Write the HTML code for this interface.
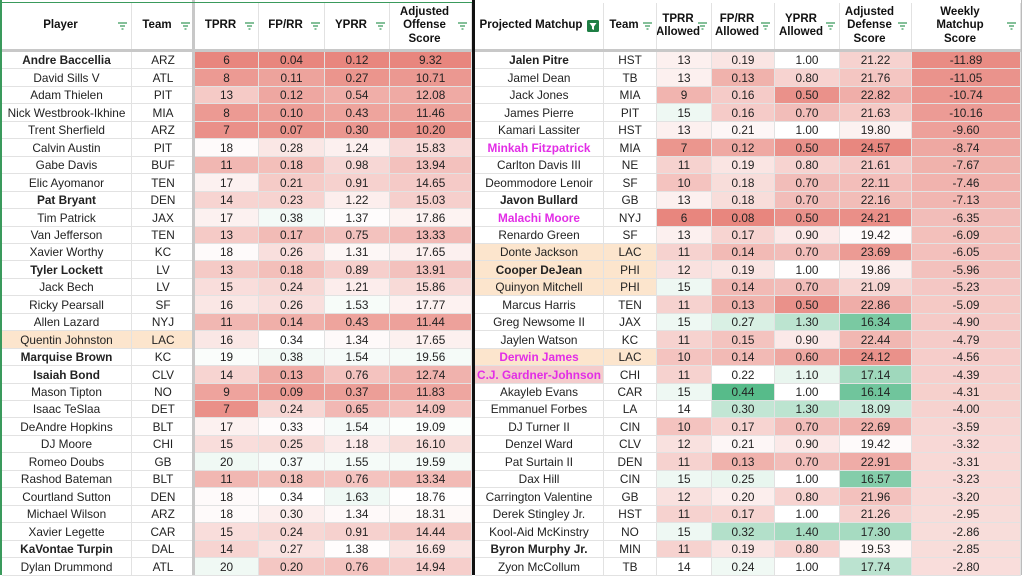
<!DOCTYPE html>
<html><head><meta charset="utf-8">
<style>
body{margin:0;width:1024px;height:575px;overflow:hidden;background:#fff;font-family:"Liberation Sans",Arial,sans-serif;position:relative}
.c{position:absolute;box-sizing:border-box;border-right:1px solid #e2e2e2;border-bottom:1px solid #e2e2e2;display:flex;align-items:center;justify-content:center;font-size:11.8px;color:#222;white-space:nowrap;overflow:hidden}
.h{font-weight:bold;font-size:11.5px;text-align:center;line-height:13.5px;color:#111}
.f{position:absolute;right:4px;top:50%;margin-top:-4px;width:9px;height:8px}
.b{font-weight:bold}
.m{font-weight:bold;color:#e22de6}
.line{position:absolute}
</style></head><body>
<div id="root"></div>
<script>
var L=[["Andre Baccellia","ARZ",6,"0.04","0.12","9.32","b"],["David Sills V","ATL",8,"0.11","0.27","10.71"],["Adam Thielen","PIT",13,"0.12","0.54","12.08"],["Nick Westbrook-Ikhine","MIA",8,"0.10","0.43","11.46"],["Trent Sherfield","ARZ",7,"0.07","0.30","10.20"],["Calvin Austin","PIT",18,"0.28","1.24","15.83"],["Gabe Davis","BUF",11,"0.18","0.98","13.94"],["Elic Ayomanor","TEN",17,"0.21","0.91","14.65"],["Pat Bryant","DEN",14,"0.23","1.22","15.03","b"],["Tim Patrick","JAX",17,"0.38","1.37","17.86"],["Van Jefferson","TEN",13,"0.17","0.75","13.33"],["Xavier Worthy","KC",18,"0.26","1.31","17.65"],["Tyler Lockett","LV",13,"0.18","0.89","13.91","b"],["Jack Bech","LV",15,"0.24","1.21","15.86"],["Ricky Pearsall","SF",16,"0.26","1.53","17.77"],["Allen Lazard","NYJ",11,"0.14","0.43","11.44"],["Quentin Johnston","LAC",16,"0.34","1.34","17.65","p"],["Marquise Brown","KC",19,"0.38","1.54","19.56","b"],["Isaiah Bond","CLV",14,"0.13","0.76","12.74","b"],["Mason Tipton","NO",9,"0.09","0.37","11.83"],["Isaac TeSlaa","DET",7,"0.24","0.65","14.09"],["DeAndre Hopkins","BLT",17,"0.33","1.54","19.09"],["DJ Moore","CHI",15,"0.25","1.18","16.10"],["Romeo Doubs","GB",20,"0.37","1.55","19.59"],["Rashod Bateman","BLT",11,"0.18","0.76","13.34"],["Courtland Sutton","DEN",18,"0.34","1.63","18.76"],["Michael Wilson","ARZ",18,"0.30","1.34","18.31"],["Xavier Legette","CAR",15,"0.24","0.91","14.44"],["KaVontae Turpin","DAL",14,"0.27","1.38","16.69","b"],["Dylan Drummond","ATL",20,"0.20","0.76","14.94"]];
var R=[["Jalen Pitre","HST",13,"0.19","1.00","21.22","-11.89","b"],["Jamel Dean","TB",13,"0.13","0.80","21.76","-11.05"],["Jack Jones","MIA",9,"0.16","0.50","22.82","-10.74"],["James Pierre","PIT",15,"0.16","0.70","21.63","-10.16"],["Kamari Lassiter","HST",13,"0.21","1.00","19.80","-9.60"],["Minkah Fitzpatrick","MIA",7,"0.12","0.50","24.57","-8.74","m"],["Carlton Davis III","NE",11,"0.19","0.80","21.61","-7.67"],["Deommodore Lenoir","SF",10,"0.18","0.70","22.11","-7.46"],["Javon Bullard","GB",13,"0.18","0.70","22.16","-7.13","b"],["Malachi Moore","NYJ",6,"0.08","0.50","24.21","-6.35","m"],["Renardo Green","SF",13,"0.17","0.90","19.42","-6.09"],["Donte Jackson","LAC",11,"0.14","0.70","23.69","-6.05","p"],["Cooper DeJean","PHI",12,"0.19","1.00","19.86","-5.96","bp"],["Quinyon Mitchell","PHI",15,"0.14","0.70","21.09","-5.23","p"],["Marcus Harris","TEN",11,"0.13","0.50","22.86","-5.09"],["Greg Newsome II","JAX",15,"0.27","1.30","16.34","-4.90"],["Jaylen Watson","KC",11,"0.15","0.90","22.44","-4.79"],["Derwin James","LAC",10,"0.14","0.60","24.12","-4.56","mp"],["C.J. Gardner-Johnson","CHI",11,"0.22","1.10","17.14","-4.39","mk"],["Akayleb Evans","CAR",15,"0.44","1.00","16.14","-4.31"],["Emmanuel Forbes","LA",14,"0.30","1.30","18.09","-4.00"],["DJ Turner II","CIN",10,"0.17","0.70","22.69","-3.59"],["Denzel Ward","CLV",12,"0.21","0.90","19.42","-3.32"],["Pat Surtain II","DEN",11,"0.13","0.70","22.91","-3.31"],["Dax Hill","CIN",15,"0.25","1.00","16.57","-3.23"],["Carrington Valentine","GB",12,"0.20","0.80","21.96","-3.20"],["Derek Stingley Jr.","HST",11,"0.17","1.00","21.26","-2.95"],["Kool-Aid McKinstry","NO",15,"0.32","1.40","17.30","-2.86"],["Byron Murphy Jr.","MIN",11,"0.19","0.80","19.53","-2.85","b"],["Zyon McCollum","TB",14,"0.24","1.00","17.74","-2.80"]];
function col(v,lo,mid,hi){v=+v;var r=[230,124,115],g=[87,187,138],w=[255,255,255],t,c;
 if((v-mid)*(hi-mid)>0){t=Math.min(1,(v-mid)/(hi-mid));c=g}else{t=Math.min(1,(v-mid)/(lo-mid))*0.92;c=r}
 return "rgb("+w.map(function(x,i){return Math.round(x+(c[i]-x)*t)}).join(",")+")"}
var fsvg='<svg class="f" viewBox="0 0 9 8"><path d="M0 1h9M2 4h5M3.5 7h2" stroke="#3a9a5c" stroke-width="1.2"/></svg>';
var fbox='<svg style="position:absolute;right:4px;top:50%;margin-top:-6px" width="12" height="12" viewBox="0 0 12 12"><rect width="12" height="12" rx="1.5" fill="#1e7e44"/><path d="M2.5 3h7L7 6.5V10L5 9V6.5z" fill="#fff"/></svg>';
var html="";
function cell(x,w,y,h,txt,st,cls){html+='<div class="c '+(cls||"")+'" style="left:'+x+'px;top:'+y+'px;width:'+w+'px;height:'+h+'px;'+(st||"")+'">'+txt+'</div>';}
var HT=3,HH=47,RT=52,RH=17.45;
var lx=[2,132,195,259,325,390,472],ly=["Player","Team","TPRR","FP/RR","YPRR","Adjusted<br>Offense<br>Score"];
var rx=[475,604,657,712,775,840,912,1021],ry=["Projected Matchup","Team","TPRR<br>Allowed","FP/RR<br>Allowed","YPRR<br>Allowed","Adjusted<br>Defense<br>Score","Weekly<br>Matchup<br>Score"];
for(var i=0;i<6;i++)cell(lx[i],lx[i+1]-lx[i],HT,HH,'<span style="margin-right:12px">'+ly[i]+'</span>'+fsvg,"","h");
for(var i=0;i<7;i++)cell(rx[i],rx[i+1]-rx[i],HT,HH,'<span style="margin-right:'+(i==0?16:12)+'px">'+ry[i]+'</span>'+(i==0?fbox:fsvg),"","h");
var Ls=[[6,18.5,35],[0.04,0.34,0.9],[0.12,1.4,4],[9.32,18.8,32]];
var Rs=[[6,14,24],[0.08,0.22,0.44],[0.45,1.0,1.75],[24.6,19.2,15.6],[-12.5,1,10]];
for(var r=0;r<30;r++){var y=Math.round(RT+r*RH),h=Math.round(RT+(r+1)*RH)-y;
 var d=L[r],s=d[6]||"",bg=s.indexOf("p")>=0?"background:#fce5cd;":"";
 cell(lx[0],lx[1]-lx[0],y,h,d[0],bg,s.indexOf("b")>=0?"b":"");
 cell(lx[1],lx[2]-lx[1],y,h,d[1],bg);
 for(var k=0;k<4;k++)cell(lx[k+2],lx[k+3]-lx[k+2],y,h,d[k+2],"background:"+col(d[k+2],Ls[k][0],Ls[k][1],Ls[k][2]));
 d=R[r];s=d[7]||"";bg=s.indexOf("p")>=0?"background:#fce5cd;":"";
 var cls=s.indexOf("m")>=0?"m":(s.indexOf("b")>=0?"b":"");
 cell(rx[0],rx[1]-rx[0],y,h,d[0],s=="mk"?"background:#f4cccc;":bg,cls);
 cell(rx[1],rx[2]-rx[1],y,h,d[1],bg);
 for(var k=0;k<5;k++)cell(rx[k+2],rx[k+3]-rx[k+2],y,h,d[k+2],"background:"+col(d[k+2],Rs[k][0],Rs[k][1],Rs[k][2]));
}
html+='<div class="line" style="left:0;top:49px;width:1021px;height:3px;background:#c8c8c8"></div>';
html+='<div class="line" style="left:192px;top:0;width:3px;height:575px;background:#c8c8c8"></div>';
html+='<div class="line" style="left:472px;top:0;width:3px;height:575px;background:#111"></div>';
html+='<div class="line" style="left:0;top:0;width:2px;height:575px;background:#3a9a5c"></div>';
html+='<div class="line" style="left:0;top:2px;width:472px;height:1px;background:#3a9a5c"></div>';
html+='<div class="line" style="left:1021px;top:0;width:1px;height:575px;background:#bbb"></div>';
document.getElementById("root").innerHTML=html;
</script>
</body></html>
